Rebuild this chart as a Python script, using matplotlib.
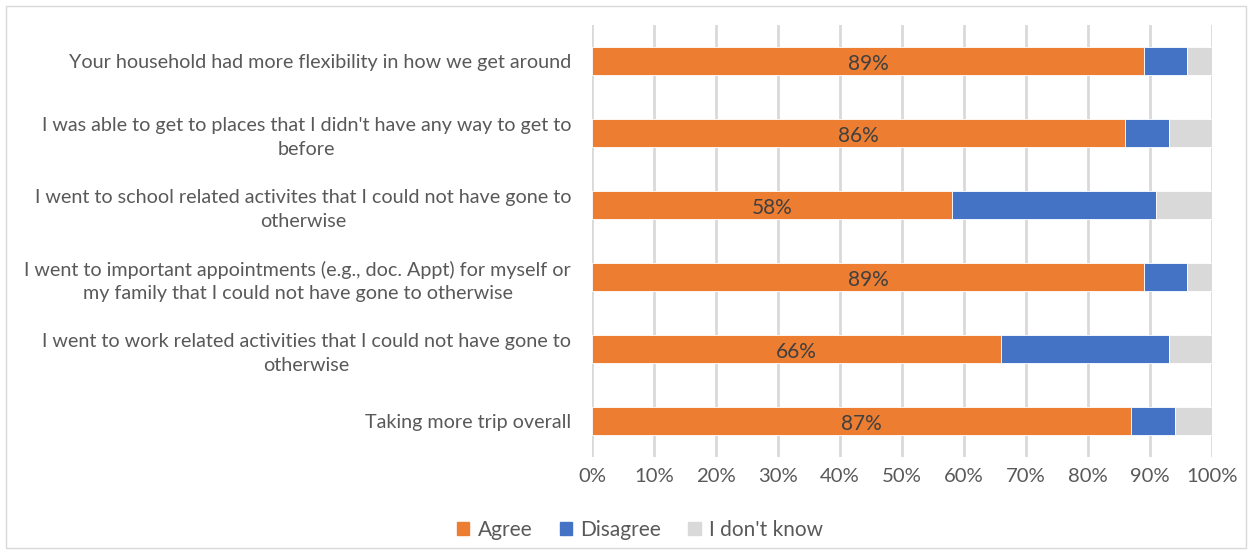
import numpy as np
import matplotlib.pyplot as plt
from matplotlib.patches import Rectangle
from matplotlib.ticker import PercentFormatter

# survey statements, top to bottom
statements = [
    "Your household had more flexibility in how we get around",
    "I was able to get to places that I didn't have any way to get to\nbefore",
    "I went to school related activites that I could not have gone to\notherwise",
    "I went to important appointments (e.g., doc. Appt) for myself or\nmy family that I could not have gone to otherwise",
    "I went to work related activities that I could not have gone to\notherwise",
    "Taking more trip overall",
]
agree = [89, 86, 58, 89, 66, 87]
disagree = [7, 7, 33, 7, 27, 7]
dont_know = [4, 7, 9, 4, 7, 6]

series = ["Agree", "Disagree", "I don't know"]
colors = ["#ED7D31", "#4472C4", "#D9D9D9"]
text_color = "#595959"

plt.rcParams['font.family'] = ['Lato', 'DejaVu Sans']

fig = plt.figure(figsize=(12.52, 5.52), dpi=100)
ax = fig.add_axes([592 / 1252, 1 - 457 / 552, 620 / 1252, 432 / 552])

y = np.arange(len(statements))
left = np.zeros(len(statements))
for name, vals, c in zip(series, [agree, disagree, dont_know], colors):
    ax.barh(y, vals, left=left, height=0.39, color=c, label=name,
            edgecolor="white", linewidth=0.6, zorder=3)
    left += np.array(vals)

# value labels on the Agree segment
for yi, v in zip(y, agree):
    ax.text(v / 2, yi + 0.04, f"{v}%", ha="center", va="center",
            fontsize=15, color="#404040", zorder=4)

ax.set_xlim(0, 100)
ax.set_ylim(len(statements) - 0.5, -0.5)
ax.set_xticks(np.arange(0, 101, 10))
ax.xaxis.set_major_formatter(PercentFormatter(decimals=0))
ax.set_yticks(y)
ax.set_yticklabels(statements, multialignment="center", linespacing=1.45)
ax.tick_params(axis="x", length=0, pad=8, labelsize=14.6, colors=text_color)
ax.tick_params(axis="y", length=0, pad=15, labelsize=14.2, colors=text_color)
ax.grid(axis="x", color="#D9D9D9", linewidth=2, zorder=0)
for s in ax.spines.values():
    s.set_visible(False)

handles = [Rectangle((0, 0), 1, 1, color=c) for c in colors]
fig.legend(handles, series, loc="center", bbox_to_anchor=(640 / 1252, 1 - 530 / 552),
           ncol=3, frameon=False, fontsize=15, labelcolor=text_color,
           handlelength=0.6, handleheight=0.6, handletextpad=0.4, columnspacing=1.3)

# light frame around the chart area
fig.patches.append(Rectangle((6 / 1252, 4 / 552), 1240 / 1252, 542 / 552,
                             transform=fig.transFigure, fill=False,
                             edgecolor="#D9D9D9", linewidth=1))

fig.savefig("out.png", dpi=100)
